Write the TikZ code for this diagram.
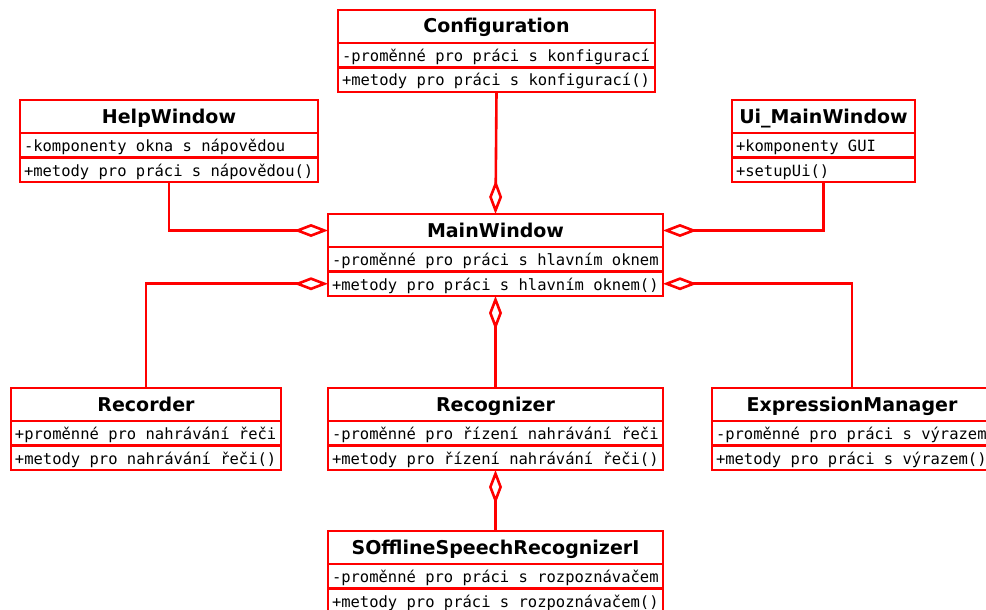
\documentclass[tikz,border=0pt]{standalone}
\usepackage{fontspec}
\setmainfont{DejaVu Sans}
\setmonofont{DejaVu Sans Mono}
\usetikzlibrary{positioning,arrows.meta}

\begin{document}
\begin{tikzpicture}[x=1pt,y=-1pt,line join=miter,
  ctitle/.style={draw=red,line width=2.6pt,fill=white,anchor=north west,text height=23pt,text depth=10pt,inner sep=0pt,outer sep=0pt,font=\bfseries\fontsize{19}{22}\selectfont},
  cmember/.style={draw=red,line width=2.6pt,fill=white,text height=18.5pt,text depth=6pt,inner xsep=4pt,inner ysep=0pt,outer sep=0pt,align=left,font=\ttfamily\fontsize{15.5}{18}\selectfont,execute at begin node={\spaceskip=0pt\xspaceskip=0pt}},
  agg/.style={draw=red,line width=2.6pt,-{Diamond[open,length=34pt,width=13pt]}}]
\useasboundingbox (0,0) rectangle (986,610);

% classes
\node[ctitle,minimum width=317pt] (cfg) at (338,10) {Configuration};
\node[cmember,text width=309pt,below=0pt of cfg] (cfg-a) {-proměnné pro práci s konfigurací};
\node[cmember,text width=309pt,below=0pt of cfg-a] (cfg-m) {+metody pro práci s konfigurací()};

\node[ctitle,minimum width=298pt] (help) at (20,100) {HelpWindow};
\node[cmember,text width=290pt,below=0pt of help] (help-a) {-komponenty okna s nápovědou};
\node[cmember,text width=290pt,below=0pt of help-a] (help-m) {+metody pro práci s nápovědou()};

\node[ctitle,minimum width=183pt] (uimw) at (732,100) {Ui\_MainWindow};
\node[cmember,text width=175pt,below=0pt of uimw] (uimw-a) {+komponenty GUI};
\node[cmember,text width=175pt,below=0pt of uimw-a] (uimw-m) {+setupUi()};

\node[ctitle,minimum width=335pt] (mw) at (328,214) {MainWindow};
\node[cmember,text width=327pt,below=0pt of mw] (mw-a) {-proměnné pro práci s hlavním oknem};
\node[cmember,text width=327pt,below=0pt of mw-a] (mw-m) {+metody pro práci s hlavním oknem()};

\node[ctitle,minimum width=270pt] (rec) at (11,388) {Recorder};
\node[cmember,text width=262pt,below=0pt of rec] (rec-a) {+proměnné pro nahrávání řeči};
\node[cmember,text width=262pt,below=0pt of rec-a] (rec-m) {+metody pro nahrávání řeči()};

\node[ctitle,minimum width=335pt] (rcg) at (328,388) {Recognizer};
\node[cmember,text width=327pt,below=0pt of rcg] (rcg-a) {-proměnné pro řízení nahrávání řeči};
\node[cmember,text width=327pt,below=0pt of rcg-a] (rcg-m) {+metody pro řízení nahrávání řeči()};

\node[ctitle,minimum width=280pt] (expr) at (712,388) {ExpressionManager};
\node[cmember,text width=272pt,below=0pt of expr] (expr-a) {-proměnné pro práci s výrazem};
\node[cmember,text width=272pt,below=0pt of expr-a] (expr-m) {+metody pro práci s výrazem()};

\node[ctitle,minimum width=335pt] (sosr) at (328,531) {SOfflineSpeechRecognizerI};
\node[cmember,text width=327pt,below=0pt of sosr] (sosr-a) {-proměnné pro práci s rozpoznávačem};
\node[cmember,text width=327pt,below=0pt of sosr-a] (sosr-m) {+metody pro práci s rozpoznávačem()};

% aggregations
\draw[agg] (cfg-m.south) -- (mw.north);
\draw[agg] (help-m.south) |- (mw.west);
\draw[agg] (uimw-m.south) |- (mw.east);
\draw[agg] (rec.north) |- (mw-m.west);
\draw[agg] (expr.north) |- (mw-m.east);
\draw[agg] (rcg.north) -- (mw-m.south);
\draw[agg] (sosr.north) -- (rcg-m.south);
\end{tikzpicture}
\end{document}
